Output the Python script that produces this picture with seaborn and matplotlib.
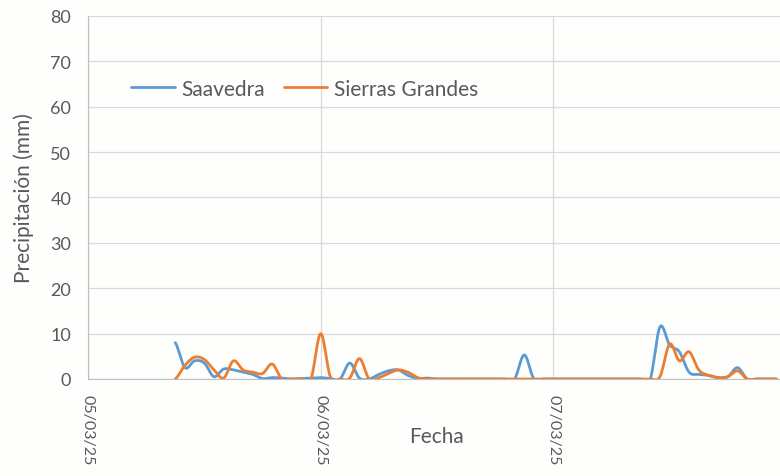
import numpy as np
import pandas as pd
import seaborn as sns
import matplotlib.pyplot as plt
import matplotlib.dates as mdates

# Hourly precipitation (mm), 05/03/25 09:00 -> 07/03/25 23:00
start = "2025-03-05 09:00"
n_hours = 63

saavedra = [8, 2.5, 4, 3.5, 0.5, 2.2, 2, 1.5, 1, 0.1, 0.3, 0.2, 0, 0.1, 0.2,
            0.3, 0.1, 0, 3.5, 0.2, 0, 1, 1.8, 2, 0.8, 0.1, 0.2, 0, 0, 0,
            0, 0, 0, 0, 0, 0, 5.3, 0, 0, 0, 0, 0, 0, 0, 0, 0,
            0, 0, 0, 0, 11.5, 7.5, 6, 1.5, 1, 0.8, 0.3, 0.5, 2.5, 0, 0, 0, 0]

sierras = [0, 3, 4.8, 4.3, 2, 0.2, 4, 2, 1.5, 1.2, 3.3, 0, 0, 0, 0,
           10, 0.5, 0, 0.2, 4.5, 0, 0.3, 1.2, 2, 1.5, 0.3, 0, 0, 0, 0,
           0, 0, 0, 0, 0, 0, 0, 0, 0, 0, 0, 0, 0, 0, 0, 0,
           0, 0, 0, 0, 0.5, 7.7, 4, 6, 2, 0.8, 0.3, 0.5, 1.8, 0, 0, 0, 0]

series_names = ["Saavedra", "Sierras Grandes"]
colors = ["#5B9BD5", "#ED7D31"]

times = pd.date_range(start, periods=n_hours, freq="h")


def smooth(t, y, steps=12):
    # Catmull-Rom curve, like Excel's "smoothed line"
    x = mdates.date2num(t)
    y = np.asarray(y, dtype=float)
    xs, ys = [], []
    for i in range(len(x) - 1):
        p0 = y[i - 1] if i > 0 else y[i]
        p3 = y[i + 2] if i + 2 < len(y) else y[i + 1]
        p1, p2 = y[i], y[i + 1]
        s = np.linspace(0, 1, steps, endpoint=False)
        ys.append(0.5 * (2 * p1 + (-p0 + p2) * s
                         + (2 * p0 - 5 * p1 + 4 * p2 - p3) * s ** 2
                         + (-p0 + 3 * p1 - 3 * p2 + p3) * s ** 3))
        xs.append(x[i] + (x[i + 1] - x[i]) * s)
    xs.append([x[-1]])
    ys.append([y[-1]])
    return mdates.num2date(np.concatenate(xs)), np.concatenate(ys)


frames = []
for name, vals in zip(series_names, [saavedra, sierras]):
    tx, ty = smooth(times, vals)
    frames.append(pd.DataFrame({"Fecha": [d.replace(tzinfo=None) for d in tx],
                                "Precipitación (mm)": ty, "Estación": name}))
df = pd.concat(frames)

sns.set_style("white")
plt.rcParams["font.family"] = ["Lato", "DejaVu Sans"]
grey = "#595959"

fig = plt.figure(figsize=(7.8, 4.77), dpi=100, facecolor="#FEFEFC")
ax = fig.add_axes([0.1128, 0.2034, 0.8949, 0.761])
ax.set_facecolor("#FEFEFC")

sns.lineplot(data=df, x="Fecha", y="Precipitación (mm)", hue="Estación",
             palette=colors, linewidth=2.0, ax=ax, sort=False)

ax.set_ylim(0, 80)
ax.set_yticks(range(0, 81, 10))
ax.set_xlim(pd.Timestamp("2025-03-05"), pd.Timestamp("2025-03-08"))
ax.xaxis.set_major_locator(mdates.DayLocator())
ax.xaxis.set_major_formatter(mdates.DateFormatter("%d/%m/%y"))
ax.grid(True, color="#D9D9D9", linewidth=0.9)
ax.set_axisbelow(True)

for side in ["top", "right"]:
    ax.spines[side].set_visible(False)
ax.spines["left"].set_color("#BFBFBF")
ax.spines["bottom"].set_color("#BFBFBF")

ax.tick_params(axis="y", length=0, colors=grey, labelsize=13, pad=12)
ax.tick_params(axis="x", length=0, colors=grey, labelsize=11.5, pad=11)
plt.setp(ax.get_xticklabels(), rotation=-90)

ax.set_xlabel("Fecha", fontsize=15, color=grey, labelpad=-28)
ax.set_ylabel("Precipitación (mm)", fontsize=15, color=grey, labelpad=12)

ax.legend(loc="upper left", bbox_to_anchor=(0.05, 0.85), ncol=2, frameon=False,
          fontsize=15, labelcolor=grey, handlelength=2.1, columnspacing=0.9,
          handletextpad=0.3, borderaxespad=0)

fig.savefig("out.png", dpi=100, facecolor=fig.get_facecolor())
